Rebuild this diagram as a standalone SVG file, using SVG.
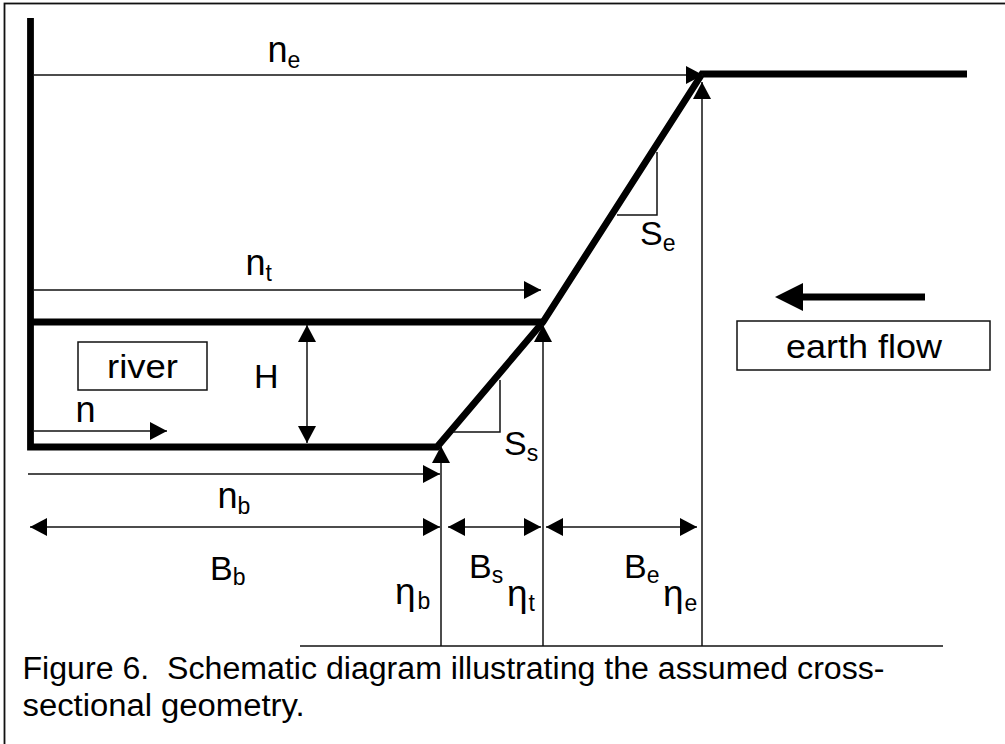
<svg xmlns="http://www.w3.org/2000/svg" width="1005" height="744" viewBox="0 0 1005 744">
<defs>
<style>
.thick{stroke:#000;stroke-width:6.8;fill:none;stroke-linecap:butt}
.thin{stroke:#111;stroke-width:1.5;fill:none}
.lbl{font-family:"Liberation Sans",Arial,sans-serif;font-size:34px;fill:#000}
.nl{font-size:36px}
.bl{font-size:34px}
.eta{font-size:37px}
.sub{font-size:23px}
.cap{font-size:31px}
.box{fill:#fff;stroke:#111;stroke-width:1.5}
</style>
<marker id="ah" markerUnits="userSpaceOnUse" viewBox="0 0 17 18" refX="17" refY="9" markerWidth="17" markerHeight="18" orient="auto-start-reverse">
<path d="M0,0 L17,9 L0,18 Z" fill="#000"/>
</marker>
</defs>
<rect width="1005" height="744" fill="#fff"/>
<rect x="4.5" y="3.5" width="1010" height="760" fill="none" stroke="#111" stroke-width="1.8"/>

<g id="ground">
<polyline class="thick" points="30.5,18 30.5,447 437,447 543,322 702,74 967,74"/>
<line class="thick" x1="30.5" y1="322" x2="543" y2="322"/>
</g>

<g id="slope-triangles">
<polyline class="thin" points="500,380 500,432 453,432"/>
<polyline class="thin" points="657,152 657,215 617,215"/>
</g>

<g id="connectors">
<line class="thin" x1="34" y1="75" x2="703" y2="75" marker-end="url(#ah)"/>
<line class="thin" x1="34" y1="290" x2="541" y2="290" marker-end="url(#ah)"/>
<line class="thin" x1="34" y1="431" x2="167" y2="431" marker-end="url(#ah)"/>
<line class="thin" x1="28" y1="474" x2="440" y2="474" marker-end="url(#ah)"/>
<line class="thin" x1="307" y1="325" x2="307" y2="443" marker-start="url(#ah)" marker-end="url(#ah)"/>
<line class="thin" x1="30" y1="527" x2="440" y2="527" marker-start="url(#ah)" marker-end="url(#ah)"/>
<line class="thin" x1="448" y1="527" x2="541" y2="527" marker-start="url(#ah)" marker-end="url(#ah)"/>
<line class="thin" x1="546" y1="527" x2="697" y2="527" marker-start="url(#ah)" marker-end="url(#ah)"/>
<line class="thin" x1="441" y1="646" x2="441" y2="446" marker-end="url(#ah)"/>
<line class="thin" x1="543" y1="646" x2="543" y2="325" marker-end="url(#ah)"/>
<line class="thin" x1="702" y1="646" x2="702" y2="82" marker-end="url(#ah)"/>
<line class="thin" x1="300" y1="646" x2="943" y2="646"/>
</g>

<g id="earth-flow-arrow">
<line x1="925" y1="297" x2="800" y2="297" stroke="#000" stroke-width="7"/>
<path d="M775,297 L803,283 L803,311 Z" fill="#000"/>
</g>

<g id="river">
<rect class="box" x="78" y="342" width="129" height="48"/>
<text class="lbl" x="107" y="378" textLength="71" lengthAdjust="spacingAndGlyphs">river</text>
</g>

<g id="earth-flow">
<rect class="box" x="737" y="321" width="253" height="49"/>
<text class="lbl" x="786" y="358" textLength="156" lengthAdjust="spacingAndGlyphs">earth flow</text>
</g>

<g id="labels">
<text class="lbl nl" x="267.5" y="62">n<tspan class="sub" dy="6">e</tspan></text>
<text class="lbl nl" x="245.5" y="275">n<tspan class="sub" dy="6">t</tspan></text>
<text class="lbl nl" x="75.5" y="422">n</text>
<text class="lbl nl" x="217.5" y="508">n<tspan class="sub" dy="6">b</tspan></text>
<text class="lbl" x="254" y="388">H</text>
<text class="lbl" x="640" y="245">S<tspan class="sub" dy="6">e</tspan></text>
<text class="lbl" x="504" y="455">S<tspan class="sub" dy="6">s</tspan></text>
<text class="lbl bl" x="210" y="580">B<tspan class="sub" dy="5">b</tspan></text>
<text class="lbl bl" x="469" y="578">B<tspan class="sub" dy="5">s</tspan></text>
<text class="lbl bl" x="624" y="578">B<tspan class="sub" dy="5">e</tspan></text>
<text class="lbl eta" x="395" y="604">η<tspan class="sub" dx="2" dy="5">b</tspan></text>
<text class="lbl eta" x="507" y="606">η<tspan class="sub" dx="1" dy="5">t</tspan></text>
<text class="lbl eta" x="663" y="606">η<tspan class="sub" dx="1" dy="5">e</tspan></text>
</g>

<g id="caption">
<text class="lbl cap" x="22.5" y="679" xml:space="preserve" textLength="862" lengthAdjust="spacingAndGlyphs">Figure 6.  Schematic diagram illustrating the assumed cross-</text>
<text class="lbl cap" x="22.5" y="716" textLength="282" lengthAdjust="spacingAndGlyphs">sectional geometry.</text>
</g>
</svg>
